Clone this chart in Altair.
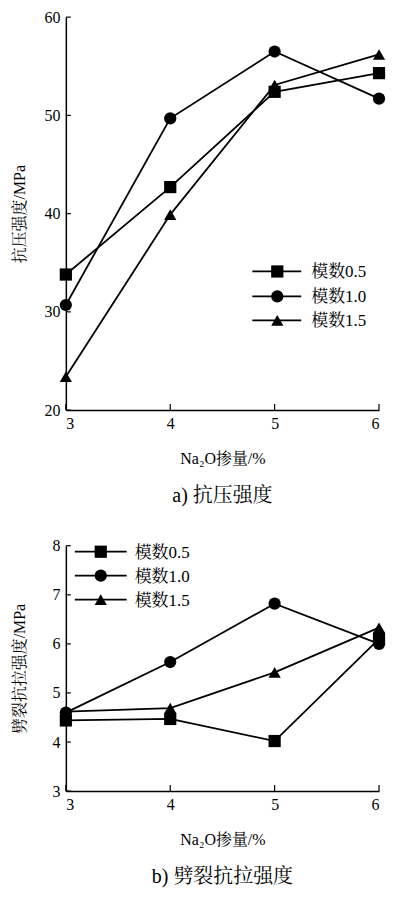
import altair as alt
import pandas as pd

FONT = "'Liberation Serif', 'Times New Roman', 'Noto Serif CJK SC', 'Noto Sans CJK SC', serif"

x_vals = [3, 4, 5, 6]
series = ["模数0.5", "模数1.0", "模数1.5"]
shapes = ["square", "circle", "triangle-up"]

top_m05 = [33.8, 42.7, 52.4, 54.3]
top_m10 = [30.7, 49.7, 56.5, 51.7]
top_m15 = [23.4, 39.9, 53.1, 56.2]

bot_m05 = [4.44, 4.47, 4.02, 6.10]
bot_m10 = [4.60, 5.63, 6.82, 6.00]
bot_m15 = [4.62, 4.69, 5.42, 6.33]

top_y_ticks = [20, 30, 40, 50, 60]
bot_y_ticks = [3, 4, 5, 6, 7, 8]

x_title = "Na₂O掺量/%"
top_y_title = "抗压强度/MPa"
bot_y_title = "劈裂抗拉强度/MPa"
top_caption = "a) 抗压强度"
bot_caption = "b) 劈裂抗拉强度"


def make_df(vals_list):
    rows = []
    for s, vals in zip(series, vals_list):
        for xv, yv in zip(x_vals, vals):
            rows.append({"x": xv, "y": yv, "series": s})
    return pd.DataFrame(rows)


def panel(vals_list, y_dom, y_ticks, y_title, caption, W, H, leg_x, leg_y):
    df = make_df(vals_list)
    xs = alt.Scale(domain=[3, 6], nice=False, zero=False)
    ys = alt.Scale(domain=y_dom, nice=False, zero=False)
    base = alt.Chart(df).encode(
        x=alt.X("x:Q", scale=xs, axis=alt.Axis(
            values=x_vals, title=x_title, tickSize=0, labelPadding=5,
            titlePadding=20, format="d")),
        y=alt.Y("y:Q", scale=ys, axis=alt.Axis(
            values=y_ticks, title=y_title, tickSize=0, labelPadding=6,
            format="d", titleX=-46, titleY=H / 2, titleAngle=270,
            titleAlign="center", titleBaseline="middle")),
    )
    lines = base.mark_line(color="black", strokeWidth=1.8).encode(detail="series:N")
    pts = base.mark_point(filled=True, color="black", size=150, opacity=1).encode(
        shape=alt.Shape("series:N", scale=alt.Scale(domain=series, range=shapes), legend=None)
    )
    ytk = alt.Chart(pd.DataFrame({"v": y_ticks})).mark_rule(color="black", strokeWidth=1.2).encode(
        y=alt.Y("v:Q", scale=ys), x=alt.value(0), x2=alt.value(5))
    xtk = alt.Chart(pd.DataFrame({"v": x_vals})).mark_rule(color="black", strokeWidth=1.2).encode(
        x=alt.X("v:Q", scale=xs), y=alt.value(H), y2=alt.value(H - 6))
    layers = [lines, pts, ytk, xtk]
    # custom legend
    for i, (s, sh) in enumerate(zip(series, shapes)):
        ldf = pd.DataFrame({"s": [s]})
        yy = leg_y[i]
        layers.append(alt.Chart(ldf).mark_rule(color="black", strokeWidth=1.8).encode(
            x=alt.value(leg_x[0]), x2=alt.value(leg_x[2]), y=alt.value(yy)))
        layers.append(alt.Chart(ldf).mark_point(filled=True, color="black", size=150, opacity=1, shape=sh).encode(
            x=alt.value(leg_x[1]), y=alt.value(yy)))
        layers.append(alt.Chart(ldf).mark_text(align="left", baseline="middle", fontSize=17, font=FONT, color="black").encode(
            text="s:N", x=alt.value(leg_x[3]), y=alt.value(yy + 1)))
    return alt.layer(*layers).properties(
        width=W, height=H,
        title=alt.TitleParams(caption, orient="bottom", frame="group", anchor="middle",
                              fontSize=20, font=FONT, fontWeight="normal", color="black", offset=19),
    )


top = panel([top_m05, top_m10, top_m15], [20, 60], top_y_ticks, top_y_title, top_caption,
            314, 394, [187, 212, 236, 246], [255, 280, 304])
bot = panel([bot_m05, bot_m10, bot_m15], [3, 8], bot_y_ticks, bot_y_title, bot_caption,
            314, 246, [9, 35, 61, 69], [6, 30, 54])

chart = alt.vconcat(top, bot, spacing=32).properties(
    padding={"left": 4, "top": 0, "right": 0, "bottom": 0}
).configure_view(stroke=None).configure_axis(
    grid=False, domainColor="black", domainWidth=1.5, labelColor="black", titleColor="black",
    labelFont=FONT, titleFont=FONT, labelFontSize=16, titleFontSize=16, titleFontWeight="normal",
)

chart.save("out.html", embed_options={"renderer": "svg", "actions": False})
